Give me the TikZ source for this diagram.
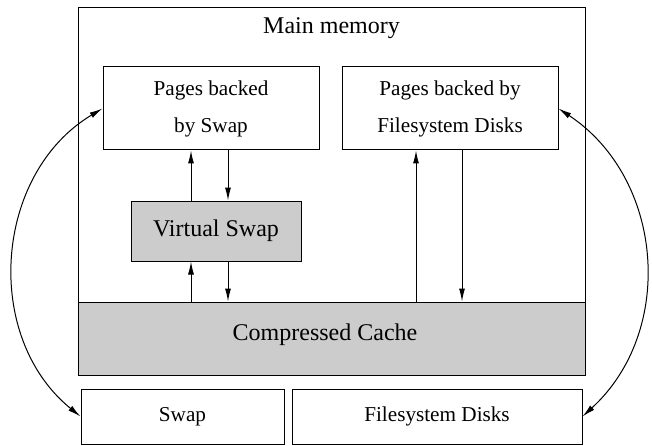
\documentclass[tikz,border=0pt]{standalone}
\usepackage{fontspec}
\setmainfont{Liberation Serif}
\usetikzlibrary{arrows.meta}
\tikzset{
	box/.style={draw, line width=0.5pt, inner sep=0pt, align=center},
	shaded/.style={box, fill=gray!40},
	smalltext/.style={font=\fontsize{10.6pt}{18.5pt}\selectfont},
	bigtext/.style={font=\fontsize{12pt}{14pt}\selectfont},
}

\begin{document}
\begin{tikzpicture}[x=0.5pt, y=0.5pt, >={Latex[length=6.5pt,width=3pt]}, line width=0.5pt]
			\useasboundingbox (0,0) rectangle (652,445);
			% main memory and its parts
			\node[box, minimum width=253.5pt, minimum height=183.5pt] (mem) at (331.5,253.5) {};
			\node[bigtext] (memlbl) at (331.5,417) {Main memory};
			\node[shaded, minimum width=253.5pt, minimum height=36.5pt] (cc) at (331.5,106.5) {};
			\node[bigtext] (cclbl) at (325,110) {Compressed Cache};
			\node[box, smalltext, minimum width=108pt, minimum height=41.5pt] (pbs) at (211,336.5) {Pages backed\\by Swap};
			\node[box, smalltext, minimum width=108pt, minimum height=41.5pt] (pbf) at (450,336.5) {Pages backed by\\Filesystem Disks};
			\node[shaded, bigtext, minimum width=85pt, minimum height=30pt] (vs) at (216,214) {Virtual Swap};
			% backing stores
			\node[box, smalltext, minimum width=101.5pt, minimum height=27.5pt] (swap) at (182.5,28.5) {Swap};
			\node[box, smalltext, minimum width=145pt, minimum height=27.5pt] (fsd) at (437,28.5) {Filesystem Disks};
			\coordinate (c1) at (191,0);
			\coordinate (c2) at (228,0);
			\coordinate (c3) at (416,0);
			\coordinate (c4) at (462,0);
			\path[->]
			(vs.north -| c1) edge (pbs.south -| c1)
			(pbs.south -| c2) edge (vs.north -| c2)
			(cc.north -| c1) edge (vs.south -| c1)
			(vs.south -| c2) edge (cc.north -| c2)
			(cc.north -| c3) edge (pbf.south -| c3)
			(pbf.south -| c4) edge (cc.north -| c4);
			\path[<->]
			(pbs.west) edge[bend right=55, looseness=1.05] (swap.west)
			(pbf.east) edge[bend left=52, looseness=1.05] (fsd.east);
		\end{tikzpicture}
\end{document}
